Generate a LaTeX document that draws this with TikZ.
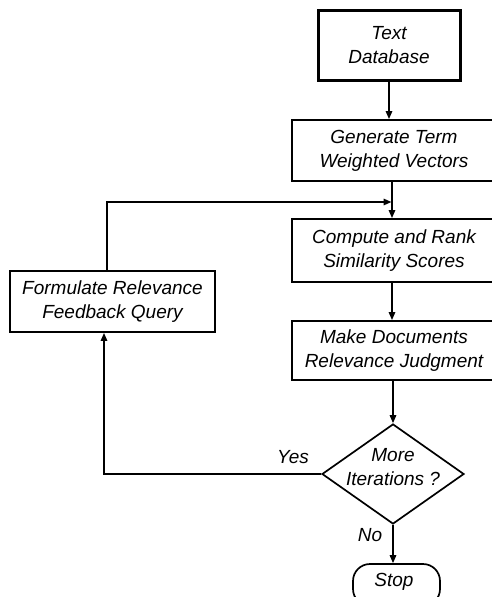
\documentclass[tikz,border=0pt]{standalone}
\usepackage{fontspec}
\setmainfont{Liberation Sans}
\usetikzlibrary{shapes.geometric,arrows.meta}
\begin{document}
\begin{tikzpicture}[x=1pt,y=-1pt,
  every node/.style={font=\fontsize{19}{24}\selectfont\itshape, align=center, inner sep=0pt},
  box/.style={draw, line width=1.9pt},
  thickbox/.style={draw, line width=3pt},
  arr/.style={line width=1.5pt, -{Triangle[length=8pt,width=6.5pt]}},
  ln/.style={line width=1.5pt}]
\useasboundingbox (0,0) rectangle (492,597);
\clip (0,0) rectangle (492,597);
\node[thickbox, minimum width=142pt, minimum height=70pt] (db) at (389,45) {Text\\Database};
\node[box, minimum width=204pt, minimum height=61pt] (gen) at (394,150.5) {Generate Term\\Weighted Vectors};
\node[box, minimum width=204pt, minimum height=63pt] (comp) at (394,250.5) {Compute and Rank\\Similarity Scores};
\node[box, minimum width=204pt, minimum height=59pt] (make) at (394,350.5) {Make Documents\\Relevance Judgment};
\node[box, minimum width=205pt, minimum height=61pt] (form) at (112.5,301.5) {Formulate Relevance\\Feedback Query};
\node[draw, line width=1.7pt, diamond, minimum width=142pt, minimum height=100pt] (dia) at (393,474) {};
\node (diatext) at (393,467) {More\\Iterations ?};
\node[draw, line width=1.7pt, rounded corners=17pt, minimum width=87pt, minimum height=42pt] (stop) at (396.5,585) {};
\node (stoptext) at (394,582) {Stop};
\node (yes) at (293,457) {Yes};
\node (no) at (370,535) {No};
\coordinate (fbtop) at (107,202);
\coordinate (fbend) at (391.5,202);
\coordinate (yescorner) at (104,474);
\draw[arr] (db.south) -- (db.south |- gen.north);
\draw[arr] ([xshift=-2pt]gen.south) -- ([xshift=-2pt]comp.north);
\draw[arr] ([xshift=-2pt]comp.south) -- ([xshift=-2pt]make.north);
\draw[arr] (dia.north |- make.south) -- (dia.north);
\draw[arr] (dia.south) -- (dia.south |- stop.north);
\draw[arr] (fbtop |- form.north) -- (fbtop) -- (fbend);
\draw[arr] (dia.west) -- (yescorner) -- (yescorner |- form.south);
\end{tikzpicture}
\end{document}
